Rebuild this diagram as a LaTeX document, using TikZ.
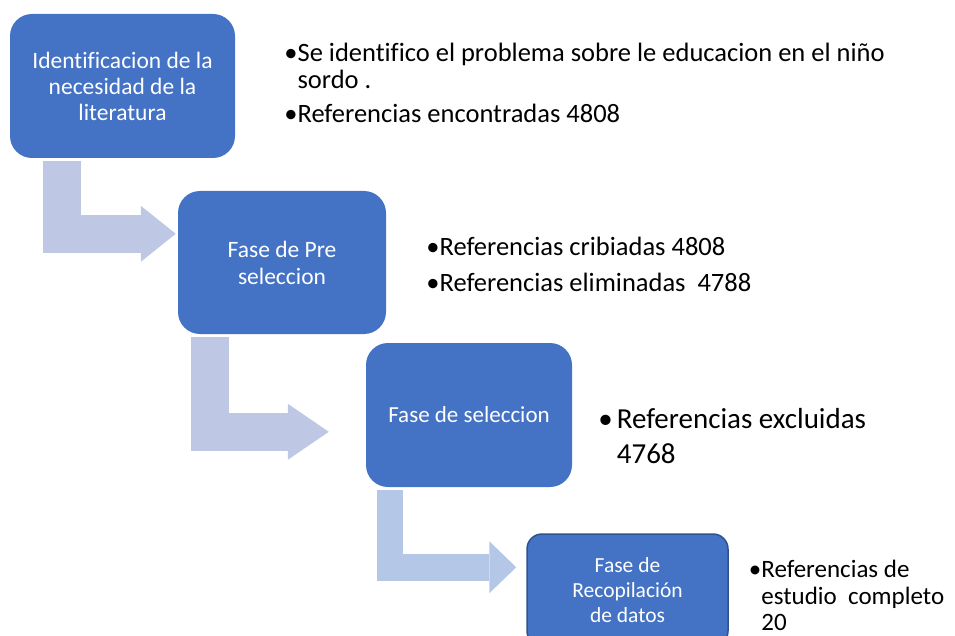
\documentclass[tikz,border=0pt]{standalone}
\usepackage{fontspec}
\setmainfont{Carlito}[Ligatures=CommonOff]
\usepackage{tikz}
\usetikzlibrary{arrows.meta, positioning, calc}
\definecolor{boxblue}{HTML}{4472C4}
\definecolor{boxedge}{HTML}{2F528F}
\definecolor{bendblue}{HTML}{BEC8E4}
\definecolor{bendlight}{HTML}{B4C7E7}

\begin{document}
\begin{tikzpicture}[x=1pt, y=-1pt,
    stage/.style={rectangle, rounded corners=22pt, fill=boxblue, text=white,
        align=center, inner sep=0pt, minimum width=#1},
    stage/.default=208pt,
    info/.style={inner sep=0pt, text=black, anchor=west},
    bend/.style={draw=bendblue, line width=#1, line join=miter}]
    \useasboundingbox (0,0) rectangle (955,636);
    \clip (0,0) rectangle (955,636);

    % Stages
    \node[stage=225pt, minimum height=144pt, font=\fontsize{23.5pt}{26pt}\selectfont] (box1) at (122.5,86)
        {Identificacion de la\\necesidad de la\\literatura};
    \node[stage=208pt, minimum height=143pt, font=\fontsize{23.5pt}{27pt}\selectfont] (box2) at (282,262.5)
        {Fase de Pre\\seleccion};
    \node[stage=206pt, minimum height=144pt, font=\fontsize{23pt}{27pt}\selectfont] (box3) at (469,415)
        {Fase de seleccion};
    \node[stage=201pt, minimum height=112pt, rounded corners=15pt, draw=boxedge, line width=1.5pt,
        font=\fontsize{21.5pt}{25pt}\selectfont] (box4) at (627.5,590)
        {Fase de\\Recopilación\\de datos};

    % Bent arrows between stages
    \coordinate (s1) at ($(box1.south west)+(52.5,3)$);
    \coordinate (t1) at ($(box2.north west)+(-2,43)$);
    \draw[bend=38pt, -{Triangle[width=56pt, length=35pt, line width=0pt]}] (s1) |- (t1);

    \coordinate (s2) at ($(box2.south west)+(32.5,3)$);
    \coordinate (t2) at ($(box3.north west)+(-37,89)$);
    \draw[bend=38pt, -{Triangle[width=56pt, length=41pt, line width=0pt]}] (s2) |- (t2);

    \coordinate (s3) at ($(box3.south west)+(24,3)$);
    \coordinate (t3) at ($(box4.north west)+(-10,34)$);
    \draw[bend=26.5pt, draw=bendlight, -{Triangle[width=52pt, length=27pt, line width=0pt]}] (s3) |- (t3);

    % Notes beside each stage
    \node[info, right=49pt of box1, yshift=-1pt, font=\fontsize{26.5pt}{27pt}\selectfont] (inf1)
        {\begin{tabular}{@{}l@{}l@{}}
        \textbullet & Se identifico el problema sobre le educacion en el niño\\
         & sordo .\\[7pt]
        \textbullet & Referencias encontradas 4808
        \end{tabular}};
    \node[info, right=40pt of box2, yshift=-6pt, font=\fontsize{26.5pt}{27pt}\selectfont] (inf2)
        {\begin{tabular}{@{}l@{}l@{}}
        \textbullet & Referencias cribiadas 4808\\[9pt]
        \textbullet & Referencias eliminadas~~4788
        \end{tabular}};
    \node[info, right=26pt of box3, yshift=-24pt, font=\fontsize{29pt}{35pt}\selectfont] (inf3)
        {\begin{tabular}{@{}l@{\hspace{4pt}}l@{}}
        \textbullet & Referencias excluidas\\
         & 4768
        \end{tabular}};
    \node[info, right=20pt of box4, yshift=-9pt, font=\fontsize{25pt}{26.5pt}\selectfont] (inf4)
        {\begin{tabular}{@{}l@{}l@{}}
        \textbullet & Referencias de\\
         & estudio~~completo\\
         & 20
        \end{tabular}};
\end{tikzpicture}
\end{document}
